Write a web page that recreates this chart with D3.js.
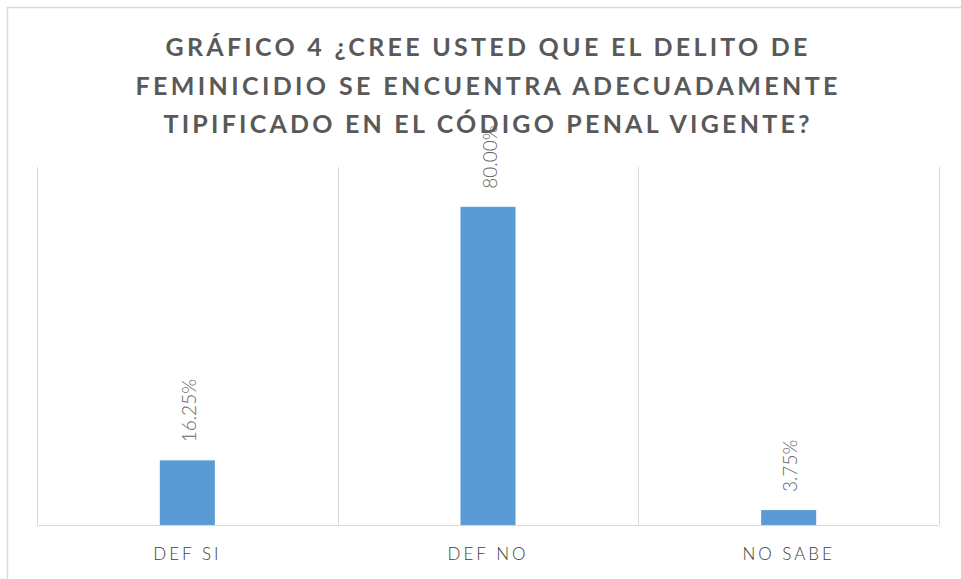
<!DOCTYPE html>
<html>
<head>
<meta charset="utf-8">
<script src="https://cdn.jsdelivr.net/npm/d3@7"></script>
<style>
  body { margin: 0; background: #fff; }
  .title { font-family: Lato, "Open Sans", sans-serif; font-weight: bold; fill: #595959; }
  .cat { font-family: Lato, "Open Sans", sans-serif; font-weight: 300; fill: #404040; }
  .val { font-family: Lato, "Open Sans", sans-serif; font-weight: 300; fill: #666666; }
</style>
</head>
<body>
<div class="chart"></div>
<script>
// data
var categories = ["DEF SI", "DEF NO", "NO SABE"];
var values = [0.1625, 0.80, 0.0375];
var titleLines = [
    "GRÁFICO 4 ¿CREE USTED QUE EL DELITO DE",
    "FEMINICIDIO SE ENCUENTRA ADECUADAMENTE",
    "TIPIFICADO EN EL CÓDIGO PENAL VIGENTE?"
];

var W = 961, H = 579;
var margin = { top: 167, right: 22, bottom: 54, left: 37 },
    width = W - margin.left - margin.right,
    height = H - margin.top - margin.bottom;

var svg = d3.select(".chart").append("svg")
    .attr("width", W)
    .attr("height", H);

// chart area border (runs off the right and bottom edges)
svg.append("rect")
    .attr("x", 7.5).attr("y", 7.5)
    .attr("width", W + 20).attr("height", H + 20)
    .attr("fill", "none")
    .attr("stroke", "#d9d9d9")
    .attr("stroke-width", 1.5);

// title
var titleWidths = [642, 702, 646];
svg.append("g").selectAll("text")
    .data(titleLines)
    .enter().append("text")
    .attr("class", "title")
    .attr("x", W / 2 + 6)
    .attr("y", function(d, i) { return 56 + i * 38.5; })
    .attr("text-anchor", "middle")
    .attr("font-size", 25)
    .attr("textLength", function(d, i) { return titleWidths[i]; })
    .attr("lengthAdjust", "spacing")
    .text(function(d) { return d; });

var g = svg.append("g")
    .attr("transform", "translate(" + margin.left + "," + margin.top + ")");

var x = d3.scaleBand().domain(categories).range([0, width]).paddingInner(0).paddingOuter(0);
var y = d3.scaleLinear().domain([0, 0.9]).range([height, 0]);

// vertical separators between categories
var bounds = categories.map(function(c) { return x(c); }).concat([width]);
g.selectAll(".grid")
    .data(bounds)
    .enter().append("line")
    .attr("class", "grid")
    .attr("x1", function(d) { return Math.round(d) + 0.5; })
    .attr("x2", function(d) { return Math.round(d) + 0.5; })
    .attr("y1", 0)
    .attr("y2", height)
    .attr("stroke", "#d9d9d9");

// bars
var barW = x.bandwidth() * 0.183;
g.selectAll(".bar")
    .data(values)
    .enter().append("rect")
    .attr("class", "bar")
    .attr("x", function(d, i) { return x(categories[i]) + x.bandwidth() / 2 - barW / 2; })
    .attr("y", function(d) { return y(d); })
    .attr("width", barW)
    .attr("height", function(d) { return height - y(d); })
    .attr("fill", "#5b9bd5");

// baseline
g.append("line")
    .attr("x1", 0).attr("x2", width)
    .attr("y1", height + 0.5).attr("y2", height + 0.5)
    .attr("stroke", "#d9d9d9");

// rotated value labels
g.selectAll(".val")
    .data(values)
    .enter().append("text")
    .attr("class", "val")
    .attr("font-size", 19)
    .attr("transform", function(d, i) {
        var cx = x(categories[i]) + x.bandwidth() / 2 + 2;
        return "translate(" + cx + "," + (y(d) - 18) + ") rotate(-90)";
    })
    .attr("dy", "0.35em")
    .text(function(d) { return (d * 100).toFixed(2) + "%"; });

// category labels
g.selectAll(".cat")
    .data(categories)
    .enter().append("text")
    .attr("class", "cat")
    .attr("x", function(d) { return x(d) + x.bandwidth() / 2; })
    .attr("y", height + 35)
    .attr("text-anchor", "middle")
    .attr("font-size", 17)
    .style("letter-spacing", "3px")
    .text(function(d) { return d; });
</script>
</body>
</html>
